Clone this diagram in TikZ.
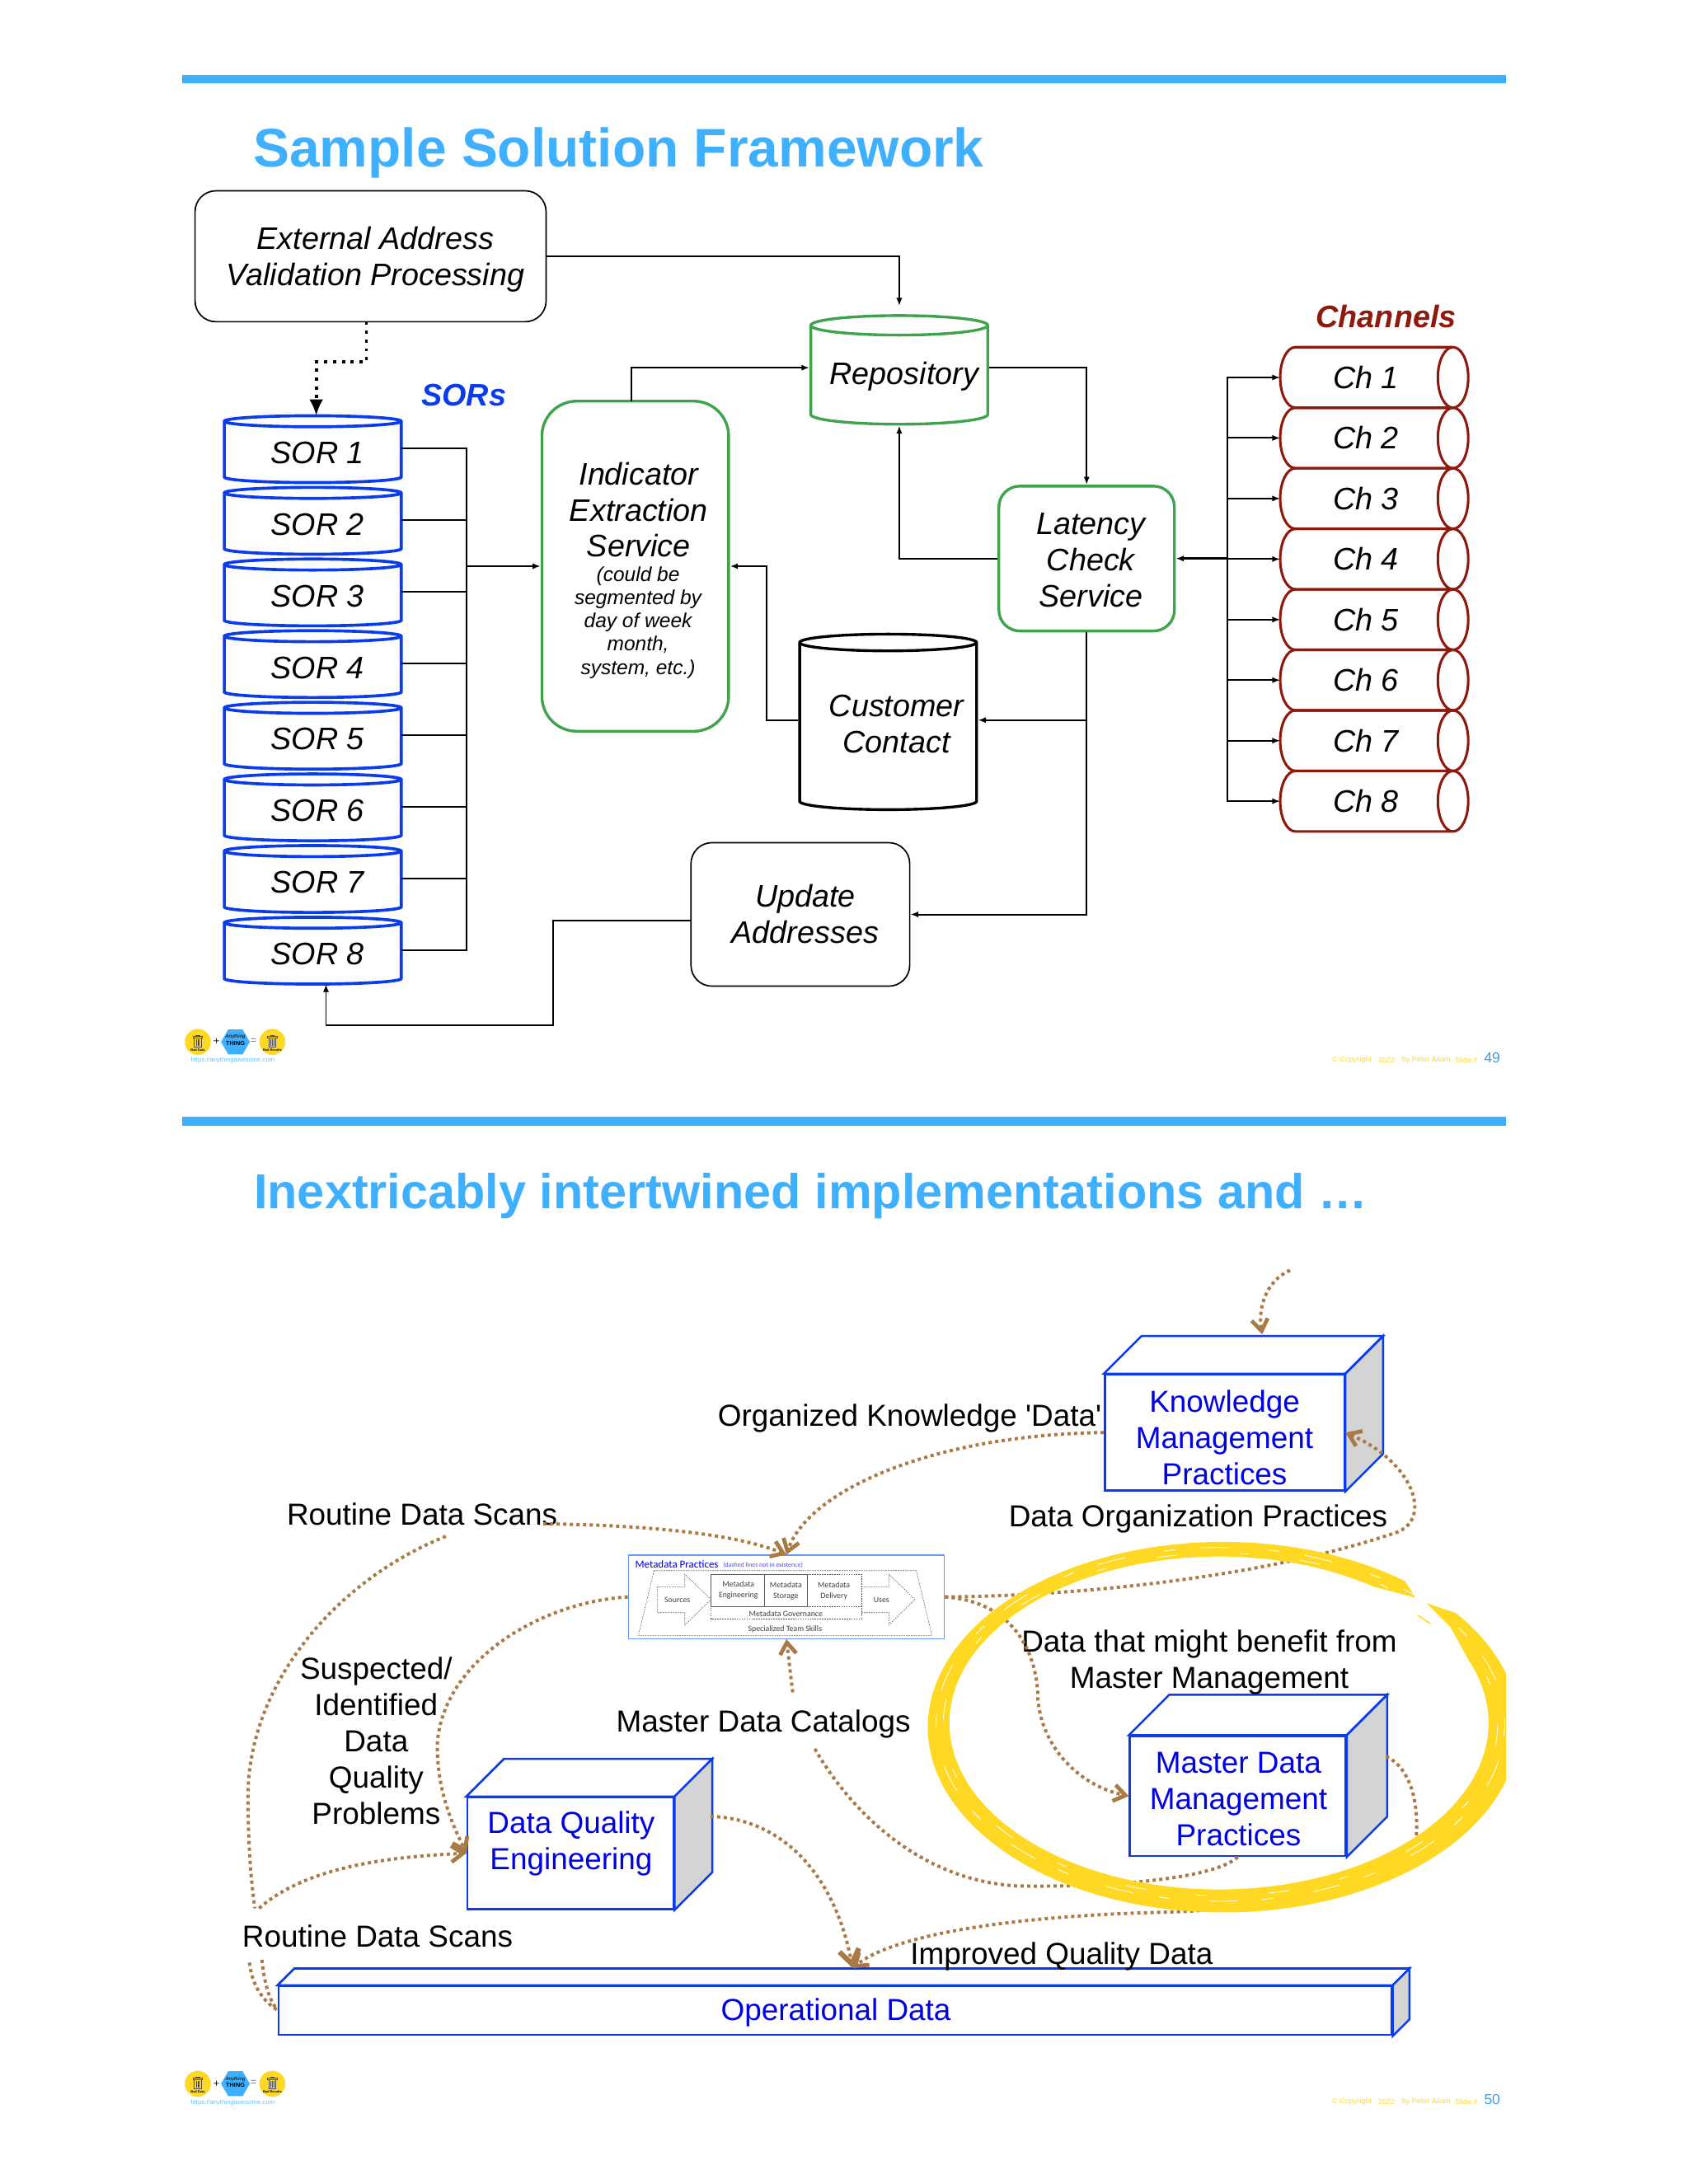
\documentclass[tikz,border=0pt]{standalone}
\usepackage{fontspec}
\setmainfont{Liberation Sans}
\newfontfamily\metafont{Carlito}
\usetikzlibrary{arrows.meta,shapes,positioning,shapes.geometric,calc}
\definecolor{barblue}{HTML}{3FB0FF}
\definecolor{sorblue}{HTML}{0A3CEB}
\definecolor{cubeblue}{HTML}{0000E6}
\definecolor{boxgreen}{HTML}{3FA34D}
\definecolor{chred}{HTML}{8E1A0E}
\definecolor{flowbrown}{HTML}{A97A45}
\definecolor{ringyellow}{HTML}{FFD823}
\definecolor{cubegrey}{HTML}{D4D4D4}
\tikzset{
size/.style 2 args = {minimum width=#1*0.6pt, minimum height=#2*0.6pt},
txt/.style = {inner sep=0pt, align=center, font=\fontsize{13.1}{15.6}\selectfont},
bluetxt/.style = {txt, text=cubeblue},
itxt/.style = {txt, font=\fontsize{13.4}{15.6}\selectfont\itshape},
note/.style = {inner sep=0pt, align=center, font=\fontsize{8.7}{10}\selectfont\itshape},
title/.style = {inner sep=0pt, anchor=base west, text=barblue, font=\fontsize{23.4}{27}\selectfont\bfseries},
head/.style = {inner sep=0pt, font=\fontsize{13.4}{15.6}\selectfont\bfseries\itshape},
roundbox/.style = {rectangle, rounded corners=9pt, draw=black, line width=.6pt},
greenbox/.style = {roundbox, draw=boxgreen, line width=1.2pt},
sor/.style = {itxt, outer sep=0pt, cylinder, shape border rotate=90, shape aspect=.107, draw=sorblue, line width=1.3pt, size={127}{48}, execute at begin node=\hspace*{4.2pt}},
chan/.style = {itxt, outer sep=0pt, cylinder, shape aspect=1.33, draw=chred, line width=1.1pt, size={43.45}{135}},
drum/.style = {cylinder, shape border rotate=90, line width=1.2pt},
link/.style = {line width=.7pt, -{Latex[length=3.4pt,width=2.6pt]}},
plain/.style = {line width=.7pt},
blackdots/.style = {line width=1.4pt, dash pattern=on 1.4pt off 2.4pt, -{Latex[length=7pt,width=6pt]}},
flow/.style = {draw=flowbrown, line width=1.4pt, dash pattern=on 1.4pt off 1.45pt},
flowto/.style = {flow, -{Straight Barb[length=5pt,width=7pt,line width=1.7pt]}},
flowbig/.style = {flow, -{Straight Barb[length=6pt,width=8.5pt,line width=2.2pt]}},
cube/.style = {rectangle, draw=sorblue, line width=.9pt},
metatxt/.style = {inner sep=0pt, align=center, text=black!75, font=\metafont\fontsize{3.5}{4.6}\selectfont},
metaline/.style = {draw=black!65, line width=.2pt, dash pattern=on .6pt off .45pt},
trashcan/.pic = {
  \draw[black!70, line width=.3pt] (-3.4,-3) rectangle (3.4,-3.9) (-1.3,-3.9) rectangle (1.3,-4.8)
    (-2.6,-3) rectangle (2.6,3.5) (-1,-1.8) -- (-1,2.6) (0,-1.8) -- (0,2.6) (1,-1.8) -- (1,2.6);
}
}
% faces behind the front of a box
\newcommand{\cubefaces}[3]{
  \draw[cube, fill=white] (#1.north west) -- ++(#2,-#3) -- ([shift={(#2,-#3)}]#1.north east) -- (#1.north east) -- cycle;
  \draw[cube, fill=cubegrey] (#1.south east) -- ++(#2,-#3) -- ([shift={(#2,-#3)}]#1.north east) -- (#1.north east) -- cycle;
}
% logo, web address and footer line of a slide
\newcommand{\slidebits}[2]{
  \begin{scope}[yshift=#1*-0.6pt]
  \node[circle, fill=ringyellow, size={18.6}{18.6}, inner sep=0pt] (badIn#2) at (142,748) {};
  \node[regular polygon, regular polygon sides=6, fill=barblue, inner sep=0pt, minimum size=12.4pt] (thing#2) at (169,748) {};
  \node[circle, fill=ringyellow, size={18.6}{18.6}, inner sep=0pt] (badOut#2) at (195.5,748) {};
  \pic at (badIn#2) {trashcan};
  \pic at (badOut#2) {trashcan};
  \node[inner sep=0pt, font=\fontsize{2.2}{2.6}\selectfont\itshape] (thingA#2) at (169,744.5) {Anything};
  \node[inner sep=0pt, font=\fontsize{2.6}{3}\selectfont\bfseries] (thingB#2) at (169,749) {THING};
  \node[inner sep=0pt, font=\fontsize{1.4}{2}\selectfont\bfseries] (badA#2) at (142,754) {Bad Data};
  \node[inner sep=0pt, font=\fontsize{1.4}{2}\selectfont\bfseries] (badB#2) at (195.5,754) {Bad Results};
  \node[inner sep=0pt, font=\fontsize{4.5}{5}\selectfont] (plus#2) at (155.3,748) {+};
  \node[inner sep=0pt, text=black!55, font=\fontsize{4.5}{5}\selectfont] (equal#2) at (182,747.5) {=};
  \node[inner sep=0pt, text=barblue!80, font=\fontsize{2.72}{4}\selectfont] (url#2) at (167,761.5) {https://anythingawesome.com};
  \node[inner sep=0pt, anchor=west, text=ringyellow, font=\fontsize{3.2}{4}\selectfont] (copy#2) at (956,761) {© Copyright};
  \node[inner sep=0pt, anchor=west, text=ringyellow, font=\fontsize{3.2}{4}\selectfont] (year#2) at (989,761) {2022};
  \node[inner sep=0pt, anchor=west, text=ringyellow, font=\fontsize{3.2}{4}\selectfont] (by#2) at (1006,761) {by Peter Aiken};
  \node[inner sep=0pt, anchor=west, text=ringyellow, font=\fontsize{3.2}{4}\selectfont] (slide#2) at (1044,761) {Slide \#};
  \node[inner sep=0pt, anchor=west, text=barblue!90!black, font=\fontsize{6.2}{7}\selectfont] (num#2) at (1065,759.5) {#2};
  \end{scope}
}

\begin{document}
\begin{tikzpicture}[x=0.6pt,y=-0.6pt]
	\useasboundingbox (0,0) rectangle (1212,1568);
	\fill[barblue] (131,54) rectangle (1081,60);
	\fill[barblue] (131,802) rectangle (1081,808);
	\node[title] (titleA) at (181.5,120) {Sample Solution Framework};
	\node[title, font=\fontsize{21.1}{25}\selectfont\bfseries] (titleB) at (182,867.5) {Inextricably intertwined implementations and …};
	\slidebits{0}{49}
	\slidebits{748}{50}

	% first slide
	\node[roundbox, size={252}{94}] (external) at (266,184) {};
	\node[itxt] (externalName) at (269.5,186) {External Address\\Validation Processing};
	\node[drum, draw=boxgreen, shape aspect=1.26, size={127}{78}] (repository) at (645.5,271) {};
	\node[itxt] (repositoryName) at (649,270) {Repository};
	\node[head, text=sorblue] (sorLabel) at (333,284) {SORs};
	\node[sor] (sor1) at (224.5,325) {SOR 1};
	\node[sor, below=2.06pt of sor1] (sor2) {SOR 2};
	\node[sor, below=2.06pt of sor2] (sor3) {SOR 3};
	\node[sor, below=2.06pt of sor3] (sor4) {SOR 4};
	\node[sor, below=2.06pt of sor4] (sor5) {SOR 5};
	\node[sor, below=2.06pt of sor5] (sor6) {SOR 6};
	\node[sor, below=2.06pt of sor6] (sor7) {SOR 7};
	\node[sor, below=2.06pt of sor7] (sor8) {SOR 8};
	\node[greenbox, rounded corners=15pt, size={134}{237}] (indicator) at (456,406.5) {};
	\node[itxt] (indicatorName) at (458.5,366) {Indicator\\Extraction\\Service};
	\node[note] (indicatorNote) at (458,447) {(could be\\segmented by\\day of week\\month,\\system, etc.)};
	\node[greenbox, size={126}{104}] (latency) at (780,401) {};
	\node[itxt] (latencyName) at (783,402) {Latency\\Check\\Service};
	\node[drum, draw=black, shape aspect=1.08, size={127}{126}] (customer) at (637.5,523) {};
	\node[itxt] (customerName) at (643.5,520) {Customer\\Contact};
	\node[roundbox, size={157}{103}] (update) at (574.5,656.5) {};
	\node[itxt] (updateName) at (578,656) {Update\\Addresses};
	\node[head, text=chred] (chLabel) at (995,227) {Channels};
	\node[chan] (ch1) at (980.5,271) {Ch 1};
	\node[chan, below=0pt of ch1] (ch2) {Ch 2};
	\node[chan, below=0pt of ch2] (ch3) {Ch 3};
	\node[chan, below=0pt of ch3] (ch4) {Ch 4};
	\node[chan, below=0pt of ch4] (ch5) {Ch 5};
	\node[chan, below=0pt of ch5] (ch6) {Ch 6};
	\node[chan, below=0pt of ch6] (ch7) {Ch 7};
	\node[chan, below=0pt of ch7] (ch8) {Ch 8};
	\coordinate (sorBus) at (335,406.5);
	\coordinate (chBus) at (881,401);
	\coordinate (indicatorTop) at (453,288);
	\coordinate (updateLeft) at (496,661);
	\coordinate (externalDrop) at (263,231);
	\draw[plain] ([yshift=1.8pt]sor1.east) -| (sorBus);
	\draw[plain] ([yshift=1.8pt]sor2.east) -| (sorBus);
	\draw[plain] ([yshift=1.8pt]sor3.east) -| (sorBus);
	\draw[plain] ([yshift=1.8pt]sor4.east) -| (sorBus);
	\draw[plain] ([yshift=1.8pt]sor5.east) -| (sorBus);
	\draw[plain] ([yshift=1.8pt]sor6.east) -| (sorBus);
	\draw[plain] ([yshift=1.8pt]sor7.east) -| (sorBus);
	\draw[plain] ([yshift=1.8pt]sor8.east) -| (sorBus);
	\draw[link] (sorBus) -- (indicator.west);
	\draw[link] (chBus) |- (ch1.west);
	\draw[link] (chBus) |- (ch2.west);
	\draw[link] (chBus) |- (ch3.west);
	\draw[link] (chBus) |- (ch4.west);
	\draw[link] (chBus) |- (ch5.west);
	\draw[link] (chBus) |- (ch6.west);
	\draw[link] (chBus) |- (ch7.west);
	\draw[link] (chBus) |- (ch8.west);
	\draw[link, line width=1pt] (chBus) -- (latency.east);
	\draw[link, shorten >=3.6pt] (external.east) -| (repository.north);
	\draw[blackdots] (externalDrop) -- ++(0,29) -| ([xshift=1.5pt]sor1.north);
	\draw[link] (indicatorTop) |- ([yshift=4.2pt]repository.west);
	\draw[link] ([yshift=4.2pt]repository.east) -| (latency.north);
	\draw[link] (latency.west) -| (repository.south);
	\draw[link] (latency.south) |- ([yshift=3.6pt]customer.east);
	\draw[link] (latency.south) |- (update.east);
	\draw[link] ([yshift=3.6pt]customer.west) -- ++(-23,0) |- (indicator.east);
	\draw[link] (updateLeft) -- ++(-99,0) -- ++(0,75) -| ([xshift=5.7pt]sor8.south);

	% second slide
	\node[cube, size={172}{83}] (knowledge) at (879,1028.5) {};
	\cubefaces{knowledge}{27}{27}
	\node[bluetxt] (knowledgeName) at (879,1032) {Knowledge\\Management\\Practices};
	\node[cube, size={155}{86}] (master) at (888.5,1289.5) {};
	\cubefaces{master}{29}{29}
	\node[bluetxt] (masterName) at (889,1291.5) {Master Data\\Management\\Practices};
	\node[cube, size={148}{80}] (quality) at (409.5,1330.5) {};
	\cubefaces{quality}{27}{27}
	\node[bluetxt] (qualityName) at (410,1323.5) {Data Quality\\Engineering};
	\node[cube, size={799}{35}] (operational) at (599.5,1443.5) {};
	\cubefaces{operational}{12}{12}
	\node[bluetxt] (operationalName) at (600,1445) {Operational Data};
	\node[rectangle, draw=barblue!60!blue!70, line width=.4pt, fill=white, size={227}{60}] (metadata) at (564.5,1146.5) {};
	\node[txt] (organized) at (653,1018.5) {Organized Knowledge \textquotesingle Data\textquotesingle};
	\node[txt] (scansTop) at (303,1087) {Routine Data Scans};
	\node[txt] (practices) at (860,1090.5) {Data Organization Practices};
	\node[txt] (benefit) at (868,1193.5) {Data that might benefit from\\Master Management};
	\node[txt] (suspected) at (270,1250) {Suspected/\\Identified\\Data\\Quality\\Problems};
	\node[txt] (catalogs) at (548,1237.5) {Master Data Catalogs};
	\node[txt] (scansLow) at (271,1390) {Routine Data Scans};
	\node[txt] (improved) at (762,1404.5) {Improved Quality Data};

	% picture inside the metadata box
	\begin{scope}[shift={(437.9,1094.7)},x=0.1183pt,y=-0.1183pt]
	\node[inner sep=0pt, anchor=west, text=cubeblue, font=\metafont\fontsize{4.6}{5}\selectfont] (metaName) at (90,143) {Metadata Practices};
	\node[inner sep=0pt, anchor=west, text=cubeblue!70, font=\metafont\fontsize{2.8}{3}\selectfont] (metaHint) at (410,148) {(dashed lines not in existence)};
	\draw[metaline] (160,167) -- (1115,167) -- (1172,403) -- (103,403) -- cycle;
	\draw[metaline] (172,226) -- (272,226) -- (272,180) -- (368,272) -- (272,365) -- (272,320) -- (172,320) -- cycle;
	\draw[metaline] (915,226) -- (1015,226) -- (1015,180) -- (1110,272) -- (1015,365) -- (1015,320) -- (915,320);
	\draw[metaline] (718,180) -- (915,180) -- (915,342) -- (368,342) -- (368,298);
	\draw[metaline] (718,298) -- (915,298);
	\draw[black!65, line width=.35pt] (368,180) rectangle (563,298) (563,180) rectangle (718,298);
	\node[metatxt] (metaEng) at (467,238) {Metadata\\Engineering};
	\node[metatxt] (metaSto) at (640,242) {Metadata\\Storage};
	\node[metatxt] (metaDel) at (815,240) {Metadata\\Delivery};
	\node[metatxt] (metaSrc) at (245,275) {Sources};
	\node[metatxt] (metaUse) at (988,275) {Uses};
	\node[metatxt] (metaGov) at (640,323) {Metadata Governance};
	\node[metatxt] (metaTeam) at (637,380) {Specialized Team Skills};
	\end{scope}

	\coordinate (kmFeed) at (926,912);
	\coordinate (kmTop) at (906,958);
	\coordinate (scansOut) at (390,1094);
	\coordinate (catalogFrom) at (584,1254);
	\coordinate (catalogTo) at (569,1215);
	\coordinate (loopTop) at (320,1103);
	\coordinate (loopLow) at (183,1370);
	\coordinate (loopLowB) at (186,1370);
	\coordinate (opLeftA) at (179,1409);
	\coordinate (opLeftB) at (188,1407);
	\coordinate (opEdge) at (199,1443);
	\coordinate (masterSide) at (995,1261);
	\coordinate (qualitySide) at (510,1304);
	\coordinate (opTop) at (612,1413);
	\draw[flowto] (kmFeed) .. controls (908,920) and (903,940) .. (kmTop);
	\draw[flowto] (knowledge.west) .. controls (670,1030) and (580,1070) .. (metadata.north);
	\draw[flowto] (scansOut) .. controls (470,1095) and (530,1102) .. (metadata.north);
	\draw[flowto] (metadata.east) .. controls (760,1146) and (900,1135) .. (1003,1100) .. controls (1028,1090) and (1015,1050) .. (knowledge.east);
	\draw[flowto] (metadata.east) .. controls (730,1150) and (745,1190) .. (745,1220) .. controls (748,1255) and (775,1282) .. (master.west);
	\draw[flowto] (masterSide) .. controls (1010,1268) and (1020,1290) .. (1016,1325) .. controls (1005,1355) and (900,1372) .. (830,1373) .. controls (720,1376) and (640,1390) .. (opTop);
	\draw[flow] (master.south) .. controls (870,1350) and (790,1355) .. (730,1354) .. controls (660,1350) and (610,1300) .. (catalogFrom);
	\draw[flowto] (catalogTo) -- (metadata.south);
	\draw[flowto] (metadata.west) .. controls (390,1150) and (320,1190) .. (314,1250) .. controls (313,1285) and (325,1310) .. (quality.west);
	\draw[flow] (loopTop) .. controls (240,1135) and (178,1210) .. (178,1290) .. controls (178,1320) and (180,1350) .. (loopLow);
	\draw[flowto] (loopLowB) .. controls (220,1340) and (280,1333) .. (quality.west);
	\draw[flow] (opLeftA) .. controls (181,1425) and (188,1436) .. (opEdge);
	\draw[flow] (opLeftB) .. controls (190,1425) and (193,1435) .. (opEdge);
	\draw[flowbig] (qualitySide) .. controls (565,1306) and (600,1350) .. (opTop);

	% yellow ring
	\begin{scope}
	\clip (600,1000) rectangle (1081,1500);
	\fill[ringyellow] (1024,1151) -- ($(878,1240)+(-38:212 and 133)$) arc (-38:308:212 and 133) -- (1016,1147) -- ($(875,1237)+(305:193.5 and 119.5)$) arc (305:-22:193.5 and 119.5) -- (1041,1168) -- cycle;
	\draw[ringyellow, line width=.5pt] (1017.8,1159.8) -- (1026.8,1165.7);
	\draw[white, line width=.3pt, dash pattern=on 5pt off 11pt on 12pt off 17pt] (876,1238) ellipse [x radius=204,y radius=127];
	\draw[white, line width=.3pt, dash pattern=on 9pt off 27pt on 4pt off 22pt] (876,1238) ellipse [x radius=199,y radius=123];
	\end{scope}
\end{tikzpicture}
\end{document}
